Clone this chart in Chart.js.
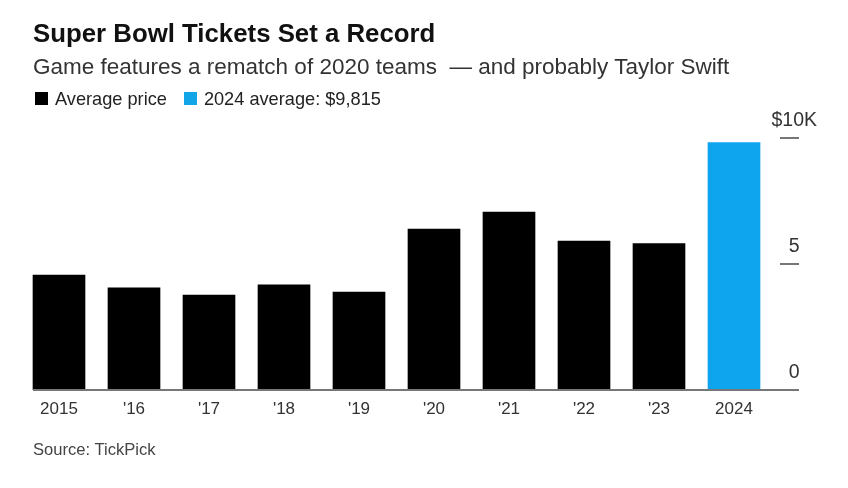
<!DOCTYPE html>
<html>
<head>
<meta charset="utf-8">
<script src="https://cdn.jsdelivr.net/npm/chart.js@4"></script>
<style>
html,body{margin:0;padding:0;background:#fff;width:848px;height:488px;overflow:hidden}
body{position:relative;font-family:"Liberation Sans",sans-serif}
#c{position:absolute;left:0;top:0}
.t{position:absolute;white-space:nowrap;line-height:1}
#title{left:33px;top:21px;font-size:25.8px;font-weight:700;color:#111}
#sub{left:33px;top:56px;font-size:22.5px;color:#333}
#leg{left:35px;top:90px;font-size:18.2px;color:#222}
#leg i{display:inline-block;width:13px;height:13px;vertical-align:0px;margin-right:7px}
#leg span{margin-right:17px}
#src{left:33px;top:442px;font-size:16.6px;color:#444}
</style>
</head>
<body>
<canvas id="c" width="848" height="488"></canvas>
<div class="t" id="title">Super Bowl Tickets Set a Record</div>
<div class="t" id="sub">Game features a rematch of 2020 teams &nbsp;— and probably Taylor Swift</div>
<div class="t" id="leg"><span><i style="background:#000"></i>Average price</span><span><i style="background:#12a5e8"></i>2024 average: $9,815</span></div>
<div class="t" id="src">Source: TickPick</div>
<script>
const categories = ["2015","'16","'17","'18","'19","'20","'21","'22","'23","2024"];
const averagePrice = [4.56,4.05,3.77,4.17,3.89,6.39,7.06,5.91,5.81,9.815];
const barColors = ["#000","#000","#000","#000","#000","#000","#000","#000","#000","#0ea5ee"];
const yTicks = [0,5,10];

const axisDecor = {
  id:'axisDecor',
  afterDatasetsDraw(chart){
    const c = chart.ctx, y = chart.scales.y;
    c.save();
    c.strokeStyle='#777'; c.lineWidth=2;
    c.beginPath();
    const b = y.getPixelForValue(0);
    c.moveTo(33,b); c.lineTo(799,b);
    c.stroke();
    yTicks.filter(v=>v>0).forEach(v=>{
      const p = y.getPixelForValue(v);
      c.beginPath(); c.moveTo(780,p); c.lineTo(799,p); c.stroke();
    });
    c.restore();
  }
};

new Chart(document.getElementById('c'),{
  type:'bar',
  data:{labels:categories,datasets:[{label:'Average price',data:averagePrice,backgroundColor:barColors,barThickness:52,borderWidth:0}]},
  plugins:[axisDecor],
  options:{
    responsive:false,animation:false,devicePixelRatio:1,
    layout:{padding:{left:21.5,top:138,right:0,bottom:0}},
    plugins:{legend:{display:false},title:{display:false},tooltip:{enabled:false}},
    scales:{
      x:{
        grid:{display:false,drawTicks:false},border:{display:false},
        afterFit(s){s.height=98;},
        ticks:{padding:9,color:'#333',maxRotation:0,autoSkip:false,font:{family:'"Liberation Sans"',size:17}}
      },
      y:{
        position:'right',min:0,max:10,
        grid:{display:false,drawTicks:false},border:{display:false},
        afterFit(s){s.width=76.5;},
        afterBuildTicks(s){s.ticks=yTicks.map(v=>({value:v}));},
        ticks:{
          padding:0,crossAlign:'center',labelOffset:-17,color:'#333',
          font:{family:'"Liberation Sans"',size:19.5},
          callback:v=>v===10?'$10K':String(v)
        }
      }
    }
  }
});
</script>
</body>
</html>
